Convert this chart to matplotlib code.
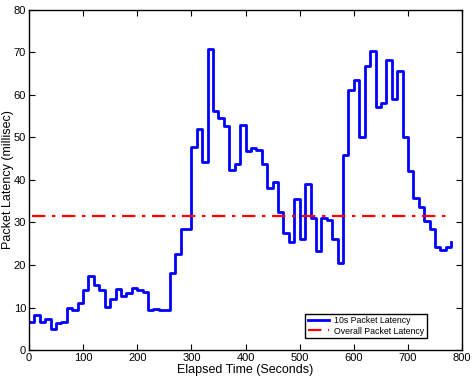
import numpy as np
import matplotlib
matplotlib.use('Agg')
import matplotlib.pyplot as plt

plt.rcParams['font.family'] = ['Liberation Sans', 'DejaVu Sans']

### data: 10 s interval latency (millisec), one value per interval start
time_s = np.arange(0, 790, 10)
latency = [
    6.6, 8.2, 6.7, 7.2, 4.9, 6.3, 6.7, 10.0, 9.3, 11.1,
    14.0, 17.4, 15.3, 14.1, 10.2, 11.9, 14.4, 12.7, 13.3, 14.7,
    14.1, 13.6, 9.4, 9.6, 9.4, 9.4, 18.2, 22.5, 28.4, 28.4,
    47.8, 51.9, 44.1, 70.7, 56.1, 54.6, 52.7, 42.3, 43.8, 52.9,
    46.9, 47.6, 47.1, 43.8, 38.0, 39.6, 32.5, 27.6, 25.5, 35.5,
    26.1, 39.1, 31.0, 23.4, 31.0, 30.6, 26.1, 20.4, 45.9, 61.2,
    63.4, 50.2, 66.8, 70.4, 57.1, 58.2, 68.2, 59.1, 65.5, 50.0,
    42.2, 35.7, 33.6, 30.4, 28.5, 24.3, 23.5, 24.3, 25.3,
]
overall_latency = 31.5
overall_span = [5, 780]

fig = plt.figure(figsize=(4.74, 3.78), dpi=100)
ax = fig.add_axes([0.061, 0.074, 0.914, 0.9])

ax.plot(time_s, latency, drawstyle='steps-post', color='#0000ff', lw=2.0,
        label='10s Packet Latency')
ax.plot(overall_span, [overall_latency, overall_latency], color='#ff0000',
        lw=1.6, linestyle=(0, (6, 3, 1.5, 3)), label='Overall Packet Latency')

ax.set_xlim(0, 800)
ax.set_ylim(0, 80)
ax.set_xticks(np.arange(0, 801, 100))
ax.set_yticks(np.arange(0, 81, 10))
ax.tick_params(direction='in', top=True, right=True, labelsize=8, length=4, pad=2)
for s in ax.spines.values():
    s.set_linewidth(1.0)

ax.set_xlabel('Elapsed Time (Seconds)', fontsize=9, labelpad=1)
ax.set_ylabel('Packet Latency (millisec)', fontsize=9, labelpad=0)

leg = ax.legend(loc='lower right', fontsize=6.3, frameon=True, fancybox=False,
                edgecolor='black', framealpha=1, handlelength=2.4,
                borderpad=0.3, labelspacing=0.15, handletextpad=0.6,
                bbox_to_anchor=(0.928, 0.022))
leg.get_frame().set_linewidth(1.0)

fig.savefig('out.png', dpi=100)
